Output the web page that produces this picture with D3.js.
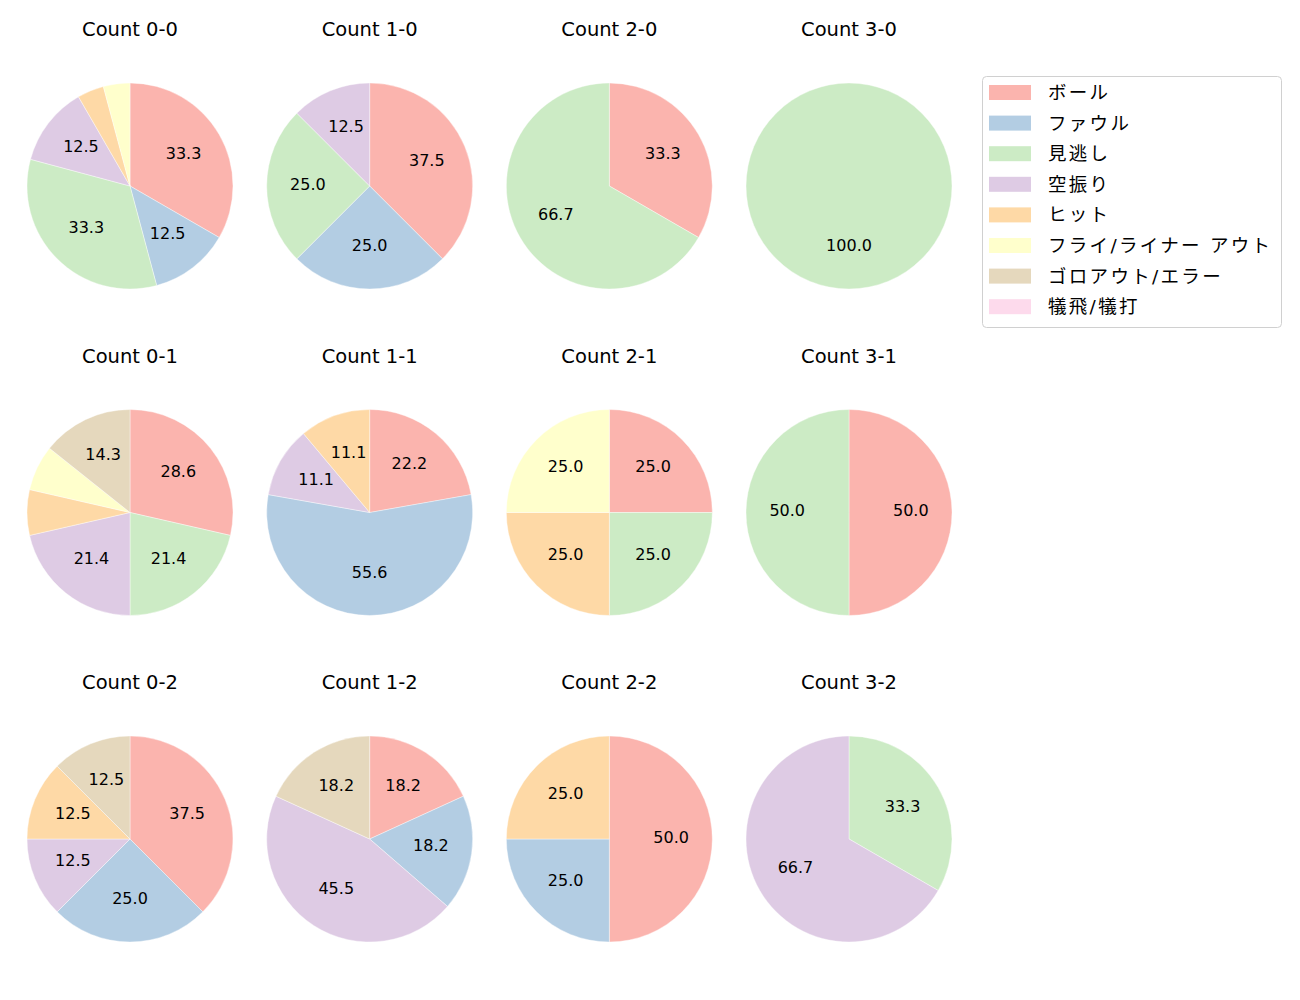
<!DOCTYPE html>
<meta charset="utf-8">
<style>
body { margin: 0; background: #fff; }
svg text { font-family: "DejaVu Sans", "Noto Sans CJK JP", sans-serif; fill: #000; }
</style>
<svg width="1300" height="1000"></svg>
<script src="https://d3js.org/d3.v7.min.js"></script>
<script>

// categories (legend order)
var categories = ["ボール", "ファウル", "見逃し", "空振り", "ヒット", "フライ/ライナー アウト", "ゴロアウト/エラー", "犠飛/犠打"];
var colors = ["#fbb4ae", "#b3cde3", "#ccebc5", "#decbe4", "#fed9a6", "#ffffcc", "#e5d8bd", "#fddaec"];

// count labels, row by row (strikes), column by column (balls)
var countLabels = ["0-0", "1-0", "2-0", "3-0", "0-1", "1-1", "2-1", "3-1", "0-2", "1-2", "2-2", "3-2"];

// pitches per category for each count (same order as countLabels)
var ball      = [8, 3, 1, 0, 4, 2, 1, 1, 3, 2, 2, 0];
var foul      = [3, 2, 0, 0, 0, 5, 0, 0, 2, 2, 1, 0];
var looking   = [8, 2, 2, 1, 3, 0, 1, 1, 0, 0, 0, 1];
var swing     = [3, 1, 0, 0, 3, 1, 0, 0, 1, 5, 0, 2];
var hit       = [1, 0, 0, 0, 1, 1, 1, 0, 1, 0, 1, 0];
var flyOut    = [1, 0, 0, 0, 1, 0, 1, 0, 0, 0, 0, 0];
var groundOut = [0, 0, 0, 0, 2, 0, 0, 0, 1, 2, 0, 0];
var sacrifice = [0, 0, 0, 0, 0, 0, 0, 0, 0, 0, 0, 0];

var series = [ball, foul, looking, swing, hit, flyOut, groundOut, sacrifice];

var svg = d3.select("svg");

var colX = d3.scaleLinear().domain([0, 3]).range([130, 849]);
var rowY = d3.scaleLinear().domain([0, 2]).range([186, 839]);
var radius = 103;

var color = d3.scaleOrdinal().domain(categories).range(colors);

var pie = d3.pie().sort(null).value(function(d) { return d.value; });
var arc = d3.arc().innerRadius(0).outerRadius(radius);
var labelArc = d3.arc().innerRadius(radius * 0.6).outerRadius(radius * 0.6);

countLabels.forEach(function(label, i) {
  var col = i % 4, row = Math.floor(i / 4);
  var cx = colX(col), cy = rowY(row);

  var slices = categories.map(function(c, k) {
    return {name: c, value: series[k][i]};
  }).filter(function(d) { return d.value > 0; });
  var total = d3.sum(slices, function(d) { return d.value; });

  var g = svg.append("g").attr("transform", "translate(" + cx + "," + cy + ")");

  g.append("text")
    .attr("x", 0)
    .attr("y", -radius - 47)
    .attr("text-anchor", "middle")
    .style("font-size", "19.5px")
    .text("Count " + label);

  var arcs = pie(slices);

  g.selectAll("path")
    .data(arcs)
    .enter().append("path")
    .attr("d", arc)
    .attr("fill", function(d) { return color(d.data.name); })
    .attr("stroke", "#fff")
    .attr("stroke-width", 0.4);

  // only slices above 10% get a label
  g.selectAll("text.pct")
    .data(arcs.filter(function(d) { return d.data.value / total * 100 > 10; }))
    .enter().append("text")
    .attr("class", "pct")
    .attr("transform", function(d) {
      var c = labelArc.centroid(d);
      return "translate(" + c[0] + "," + (c[1] - 2) + ")";
    })
    .attr("text-anchor", "middle")
    .attr("dominant-baseline", "central")
    .style("font-size", "16px")
    .text(function(d) { return (d.data.value / total * 100).toFixed(1); });
});

// legend
var legend = svg.append("g").attr("transform", "translate(982,76)");
legend.append("rect")
  .attr("x", 0.5).attr("y", 0.5)
  .attr("width", 299).attr("height", 251)
  .attr("rx", 4)
  .attr("fill", "#fff")
  .attr("stroke", "#d0d0d0");

var item = legend.selectAll("g.item")
  .data(categories)
  .enter().append("g")
  .attr("class", "item")
  .attr("transform", function(d, i) { return "translate(0," + (16.5 + i * 30.6) + ")"; });

item.append("rect")
  .attr("x", 7).attr("y", -7.5)
  .attr("width", 42).attr("height", 15)
  .attr("fill", function(d) { return color(d); });

item.append("text")
  .attr("x", 66)
  .attr("y", 0)
  .attr("dominant-baseline", "central")
  .style("font-size", "18.5px")
  .style("letter-spacing", "2.3px")
  .text(function(d) { return d; });

</script>
